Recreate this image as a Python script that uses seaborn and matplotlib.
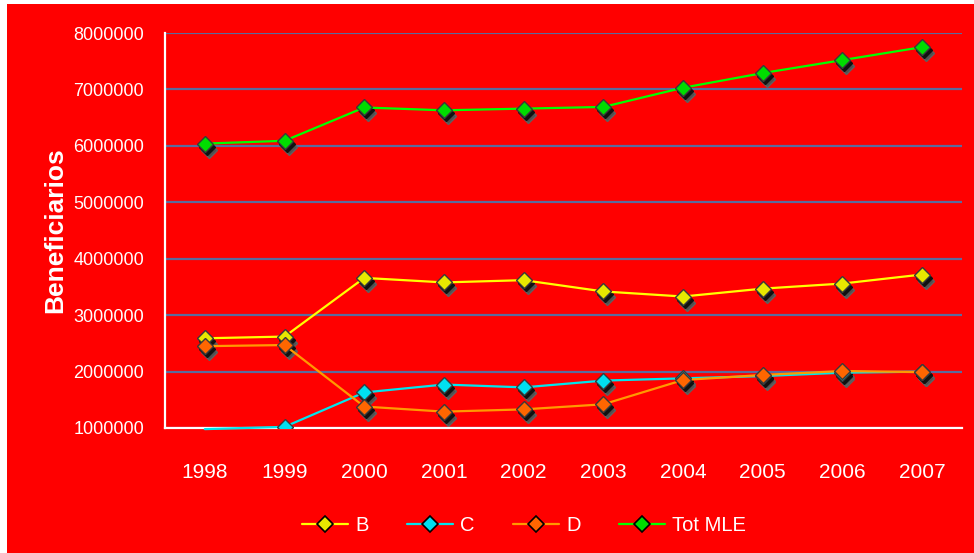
import numpy as np
import pandas as pd
import seaborn as sns
import matplotlib
matplotlib.use("Agg")
import matplotlib.pyplot as plt
from matplotlib.lines import Line2D
from matplotlib.patches import Rectangle
from matplotlib.transforms import offset_copy

sns.set_style("white")
plt.rcParams["font.family"] = ["Liberation Sans", "DejaVu Sans"]

years = ["1998", "1999", "2000", "2001", "2002", "2003", "2004", "2005", "2006", "2007"]
serie_b = [2590000, 2620000, 3660000, 3580000, 3620000, 3420000, 3330000, 3470000, 3560000, 3720000]
serie_c = [980000, 1020000, 1630000, 1770000, 1720000, 1840000, 1880000, 1920000, 1980000, 2000000]
serie_d = [2450000, 2470000, 1380000, 1290000, 1330000, 1420000, 1850000, 1940000, 2010000, 1990000]
serie_tot = [6040000, 6090000, 6680000, 6630000, 6660000, 6690000, 7030000, 7290000, 7520000, 7750000]
series_names = ["B", "C", "D", "Tot MLE"]
y_ticks = [1000000, 2000000, 3000000, 4000000, 5000000, 6000000, 7000000, 8000000]
y_min, y_max = 1000000, 8000000

line_colors = {"B": "#ffff00", "C": "#00e5ee", "D": "#ff9900", "Tot MLE": "#00ff00"}
marker_colors = {"B": "#e8e800", "C": "#00e0f0", "D": "#ff6600", "Tot MLE": "#00dd00"}

values = {"B": serie_b, "C": serie_c, "D": serie_d, "Tot MLE": serie_tot}
df = pd.DataFrame(
    [(i, values[s][i], s) for s in series_names for i in range(len(years))],
    columns=["pos", "valor", "serie"],
)

fig = plt.figure(figsize=(9.74, 5.53), dpi=100, facecolor="white")
fig.patches.append(Rectangle((7 / 974, 0), 1 - 7 / 974, 1 - 4 / 553,
                             transform=fig.transFigure, facecolor="#ff0000",
                             edgecolor="none", zorder=-10))
ax = fig.add_axes([165 / 974, 1 - 428 / 553, (962 - 165) / 974, (428 - 33) / 553])
ax.set_facecolor("#ff0000")

# markers are only drawn for points inside the value range
def visible_points(vals):
    x = [i for i, v in enumerate(vals) if y_min <= v <= y_max]
    y = [v for v in vals if y_min <= v <= y_max]
    return x, y

# drop shadows behind the markers
shadow = offset_copy(ax.transData, fig=fig, x=4, y=-6, units="dots")
shadow2 = offset_copy(ax.transData, fig=fig, x=2, y=-3, units="dots")
for s in series_names:
    px, py = visible_points(values[s])
    ax.plot(px, py, linestyle="none", marker="D",
            markersize=8.5, markerfacecolor="#505050", markeredgecolor="#606060",
            markeredgewidth=1.0, transform=shadow, zorder=2)
    ax.plot(px, py, linestyle="none", marker="D",
            markersize=8.5, markerfacecolor="#111111", markeredgecolor="#111111",
            markeredgewidth=1.0, transform=shadow2, zorder=2.1)

# series lines
n_before = len(ax.lines)
sns.lineplot(data=df, x="pos", y="valor", hue="serie", palette=line_colors,
             linewidth=1.6, legend=False, ax=ax, zorder=3)
for ln in ax.lines[n_before:]:
    ln.set_clip_on(False)
for s in series_names:
    px, py = visible_points(values[s])
    ax.plot(px, py, linestyle="none", marker="D",
            markersize=8.5, markerfacecolor=marker_colors[s],
            markeredgecolor="#3a3a3a", markeredgewidth=1.0, zorder=4)

ax.set_xlim(-0.5, len(years) - 0.5)
ax.set_ylim(y_min, y_max)
ax.set_yticks(y_ticks)
ax.set_yticklabels([str(v) for v in y_ticks], color="white", fontsize=13)
ax.set_xticks(np.arange(-0.5, len(years), 1.0))
ax.set_xticklabels([])
ax.set_xticks(np.arange(len(years)), minor=True)
ax.set_xticklabels(years, minor=True, color="white", fontsize=15)
ax.tick_params(axis="x", which="major", direction="out", length=6, width=1.5, color="white")
ax.tick_params(axis="x", which="minor", length=0, pad=25)
ax.tick_params(axis="y", direction="out", length=5, width=1.5, color="white", pad=10)

ax.yaxis.grid(True, color="#5b6b9e", linewidth=1.6)
ax.xaxis.grid(False)
ax.set_axisbelow(True)
for side in ["top", "right"]:
    ax.spines[side].set_visible(False)
for side in ["left", "bottom"]:
    ax.spines[side].set_color("white")
    ax.spines[side].set_linewidth(1.6)
    ax.spines[side].set_zorder(2.5)

ax.set_xlabel("")
ax.set_ylabel("Beneficiarios", color="white", fontsize=19, fontweight="bold", labelpad=4)

handles = [Line2D([0], [0], color=line_colors[s], linewidth=1.6, marker="D",
                  markersize=8, markerfacecolor=marker_colors[s],
                  markeredgecolor="black", markeredgewidth=1.2)
           for s in series_names]
leg = fig.legend(handles, series_names, loc="center", bbox_to_anchor=(0.538, 0.05),
                 ncol=4, frameon=False, fontsize=14.5, handlelength=2.3,
                 columnspacing=1.9, handletextpad=0.35)
for t in leg.get_texts():
    t.set_color("white")

fig.savefig("out.png", dpi=100, facecolor=fig.get_facecolor())
